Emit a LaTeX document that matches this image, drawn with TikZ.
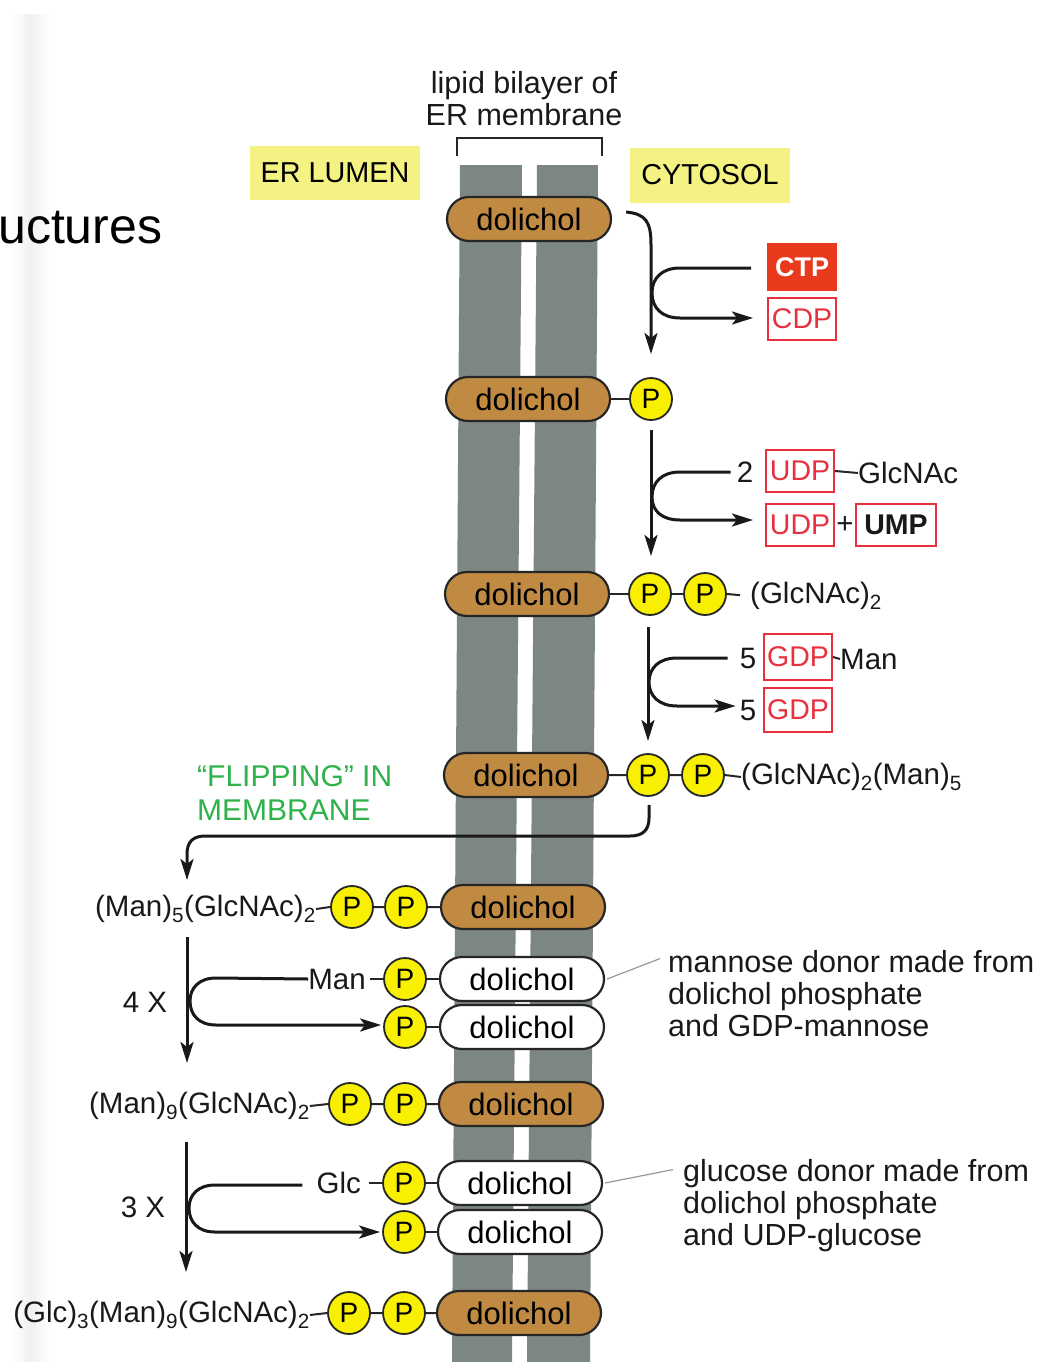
\documentclass[tikz,border=0pt]{standalone}
\usepackage{fontspec}
\setmainfont{Liberation Sans}
\usetikzlibrary{arrows.meta,calc,shapes.misc}
\definecolor{membr}{HTML}{7D8781}
\definecolor{dolbrown}{HTML}{C08A42}
\definecolor{pyel}{HTML}{F8F000}
\definecolor{labyel}{HTML}{F4F282}
\definecolor{nred}{HTML}{E8303E}
\definecolor{ctpred}{HTML}{EA3A1E}
\definecolor{flipgreen}{HTML}{2DB34A}
\begin{document}
\begin{tikzpicture}[x=1pt,y=-1pt,
 dolbox/.style={rounded rectangle, draw=black!85, line width=2.2pt, fill=dolbrown, minimum width=164pt, minimum height=44pt, inner sep=0pt, font=\fontsize{31}{31}\selectfont},
 dolwhite/.style={dolbox, fill=white},
 pcirc/.style={circle, draw=black!85, line width=1.8pt, fill=pyel, minimum size=42pt, inner sep=0pt, font=\fontsize{28}{28}\selectfont},
 lbl/.style={font=\fontsize{29.5}{32}\selectfont, inner sep=0pt, text=black!90},
 nbox/.style={draw=nred, line width=2pt, minimum width=68pt, minimum height=42pt, inner sep=0pt, font=\fontsize{28.5}{28}\selectfont, text=nred},
 bond/.style={line width=2pt, black!85},
 rxn/.style={line width=3pt, black!90},
 tip/.style={-{Stealth[length=21pt,width=13pt,inset=5pt]}},
 yelbox/.style={fill=labyel, inner sep=0pt, font=\fontsize{28.8}{28}\selectfont},
 callout/.style={line width=1.2pt, gray!80},
]
\useasboundingbox (0,0) rectangle (1042,1362);
\fill[white] (0,0) rectangle (1042,1362);
\fill[left color=white, right color=white, middle color=black!6] (12,15) rectangle (50,1362);

% membrane strips
\fill[membr] (460,165) -- (522,165) -- (512,1362) -- (452,1362) -- cycle;
\fill[membr] (537,165) -- (598,165) -- (590,1362) -- (527,1362) -- cycle;

% header labels
\node[lbl, align=center, font=\fontsize{30.5}{32}\selectfont] (bilayer) at (524,99) {lipid bilayer of\\ER membrane};
\coordinate (brL) at (457,156);
\coordinate (brR) at (602,156);
\draw[line width=1.6pt, black!85] (brL) -- ++(0,-18) -| (brR);
\node[yelbox, minimum width=170pt, minimum height=54pt] (lumen) at (335,173) {ER LUMEN};
\node[yelbox, minimum width=160pt, minimum height=55pt] (cyto) at (710,175) {CYTOSOL};
\node[font=\fontsize{50}{50}\selectfont, anchor=base west, inner sep=0pt] (uct) at (-2,243) {uctures};

% row 1
\node[dolbox] (d1) at (529,219) {dolichol};
% row 2
\node[dolbox] (d2) at (528,399) {dolichol};
\node[pcirc] (p2) at (651,399) {P};
\draw[bond] (d2.east) -- (p2.west);
% row 3
\node[dolbox] (d3) at (527,594) {dolichol};
\node[pcirc] (p3a) at (650,594) {P};
\node[pcirc] (p3b) at (705,594) {P};
\node[lbl, anchor=west] (t3) at (750,596) {(GlcNAc)\textsubscript{2}};
\draw[bond] (d3.east) -- (p3a.west) (p3a.east) -- (p3b.west);
\draw[bond, shorten >=10pt] (p3b.east) -- (t3.west);
% row 4
\node[dolbox] (d4) at (526,775) {dolichol};
\node[pcirc] (p4a) at (648,775) {P};
\node[pcirc] (p4b) at (703,775) {P};
\node[lbl, anchor=west] (t4) at (741,777) {(GlcNAc)\textsubscript{2}(Man)\textsubscript{5}};
\draw[bond] (d4.east) -- (p4a.west) (p4a.east) -- (p4b.west) (p4b.east) -- (t4.west);
% row 5
\node[dolbox] (d5) at (523,907) {dolichol};
\node[pcirc] (p5b) at (406,907) {P};
\node[pcirc] (p5a) at (352,907) {P};
\node[lbl, anchor=east] (t5) at (316,909) {(Man)\textsubscript{5}(GlcNAc)\textsubscript{2}};
\draw[bond] (t5.east) -- (p5a.west) (p5a.east) -- (p5b.west) (p5b.east) -- (d5.west);
% row 6,7
\node[dolwhite] (d6) at (522,979) {dolichol};
\node[pcirc] (p6) at (405,979) {P};
\node[lbl, anchor=east] (t6) at (366,979) {Man};
\draw[bond] (p6.east) -- (d6.west);
\draw[bond, shorten <=4pt] (t6.east) -- (p6.west);
\node[dolwhite] (d7) at (522,1027) {dolichol};
\node[pcirc] (p7) at (405,1027) {P};
\draw[bond] (p7.east) -- (d7.west);
% row 8
\node[dolbox] (d8) at (521,1104) {dolichol};
\node[pcirc] (p8b) at (405,1104) {P};
\node[pcirc] (p8a) at (350,1104) {P};
\node[lbl, anchor=east] (t8) at (310,1106) {(Man)\textsubscript{9}(GlcNAc)\textsubscript{2}};
\draw[bond] (t8.east) -- (p8a.west) (p8a.east) -- (p8b.west) (p8b.east) -- (d8.west);
% row 9,10
\node[dolwhite] (d9) at (520,1183) {dolichol};
\node[pcirc] (p9) at (404,1183) {P};
\node[lbl, anchor=east] (t9) at (361,1183) {Glc};
\draw[bond] (p9.east) -- (d9.west);
\draw[bond, shorten <=8pt] (t9.east) -- (p9.west);
\node[dolwhite] (d10) at (520,1232) {dolichol};
\node[pcirc] (p10) at (404,1232) {P};
\draw[bond] (p10.east) -- (d10.west);
% row 11
\node[dolbox] (d11) at (519,1313) {dolichol};
\node[pcirc] (p11b) at (404,1313) {P};
\node[pcirc] (p11a) at (349,1313) {P};
\node[lbl, anchor=east] (t11) at (310,1315) {(Glc)\textsubscript{3}(Man)\textsubscript{9}(GlcNAc)\textsubscript{2}};
\draw[bond] (t11.east) -- (p11a.west) (p11a.east) -- (p11b.west) (p11b.east) -- (d11.west);

% step 1: CTP -> CDP
\node[nbox, fill=ctpred, draw=ctpred, text=white, minimum height=46pt, font=\fontsize{27}{27}\selectfont\bfseries] (ctp) at (802,267) {CTP};
\node[nbox] (cdp) at (802,319) {CDP};
\coordinate (s1a) at ($(d1.east)+(14,-7)$);
\coordinate (s1b) at (651,354);
\draw[rxn, tip] (s1a) .. controls ($(s1a)+(20,2)$) and (651,222) .. (651,245) -- (s1b);
\draw[rxn, tip] ($(ctp.west)+(-16,1)$) -- (680,268) .. controls (662,268) and (652,278) .. (652,293) .. controls (652,308) and (662,318) .. (680,318) -- ($(cdp.west)+(-14,-1)$);

% step 2: UDP-GlcNAc
\node[lbl] (n2) at (745,472) {2};
\node[nbox] (udp1) at (800,471) {UDP};
\node[lbl, anchor=west] (glcnac) at (858,473) {GlcNAc};
\draw[bond] (udp1.east) -- (glcnac.west);
\node[nbox] (udp2) at (800,525) {UDP};
\node[lbl] (plus) at (845,525) {+};
\node[nbox, minimum width=80pt, text=black!90, font=\fontsize{28.5}{28}\selectfont\bfseries] (ump) at (896,525) {UMP};
\coordinate (s2a) at (651,430);
\coordinate (s2b) at (651,556);
\draw[rxn, tip] (s2a) -- (s2b);
\draw[rxn, tip] ($(n2.west)+(-6,0)$) -- (680,472) .. controls (662,472) and (652,482) .. (652,497) .. controls (652,511) and (662,520) .. (680,520) -- ($(udp2.west)+(-12,-5)$);

% step 3: GDP-Man
\node[lbl] (n5a) at (748,658) {5};
\node[nbox, minimum height=46pt] (gdp1) at (798,657) {GDP};
\node[lbl, anchor=west] (man) at (840,659) {Man};
\draw[bond] (gdp1.east) -- (man.west);
\node[lbl] (n5b) at (748,710) {5};
\node[nbox, minimum height=44pt] (gdp2) at (798,710) {GDP};
\coordinate (s3a) at (648,627);
\coordinate (s3b) at (648,741);
\draw[rxn, tip] (s3a) -- (s3b);
\draw[rxn, tip] ($(n5a.west)+(-12,0)$) -- (677,658) .. controls (659,658) and (649,668) .. (649,682) .. controls (649,696) and (659,706) .. (677,706) -- ($(n5b.west)+(-4,-4)$);

% flipping
\node[lbl, align=left, anchor=west, text=flipgreen, font=\fontsize{30}{34}\selectfont] (flip) at (197,793) {“FLIPPING” IN\\MEMBRANE};
\coordinate (f1) at (187,880);
\draw[rxn, tip] ($(p4a.south)+(1,8)$) -- (649,818) .. controls (649,830) and (643,836) .. (630,836) -- (205,836) .. controls (193,836) and (187,842) .. (187,854) -- (f1);

% step 4: 4 X
\node[lbl] (x4) at (145,1002) {4 X};
\coordinate (s4a) at (187,937);
\coordinate (s4b) at (187,1063);
\draw[rxn, tip] (s4a) -- (s4b);
\draw[rxn, tip] (t6.west) -- (216,978) .. controls (199,978) and (190,988) .. (190,1001) .. controls (190,1015) and (199,1025) .. (216,1025) -- ($(p7.west)+(-2,-2)$);

% step 5: 3 X
\node[lbl] (x3) at (143,1207) {3 X};
\coordinate (s5a) at (186,1142);
\coordinate (s5b) at (186,1272);
\draw[rxn, tip] (s5a) -- (s5b);
\draw[rxn, tip] ($(t9.west)+(-14,2)$) -- (215,1185) .. controls (198,1185) and (189,1195) .. (189,1208) .. controls (189,1222) and (198,1232) .. (215,1232) -- ($(p10.west)+(-2,0)$);

% callouts
\node[lbl, align=left, anchor=west, font=\fontsize{30.5}{32}\selectfont] (mand) at (668,994) {mannose donor made from\\dolichol phosphate\\and GDP-mannose};
\node[lbl, align=left, anchor=west, font=\fontsize{30.5}{32}\selectfont] (glcd) at (683,1206) {glucose donor made from\\dolichol phosphate\\and UDP-glucose};
\draw[callout] ($(d6.east)+(2,0)$) -- ($(mand.north west)+(-8,8)$);
\draw[callout] ($(d9.east)+(2,0)$) -- ($(glcd.north west)+(-10,10)$);
\end{tikzpicture}
\end{document}
